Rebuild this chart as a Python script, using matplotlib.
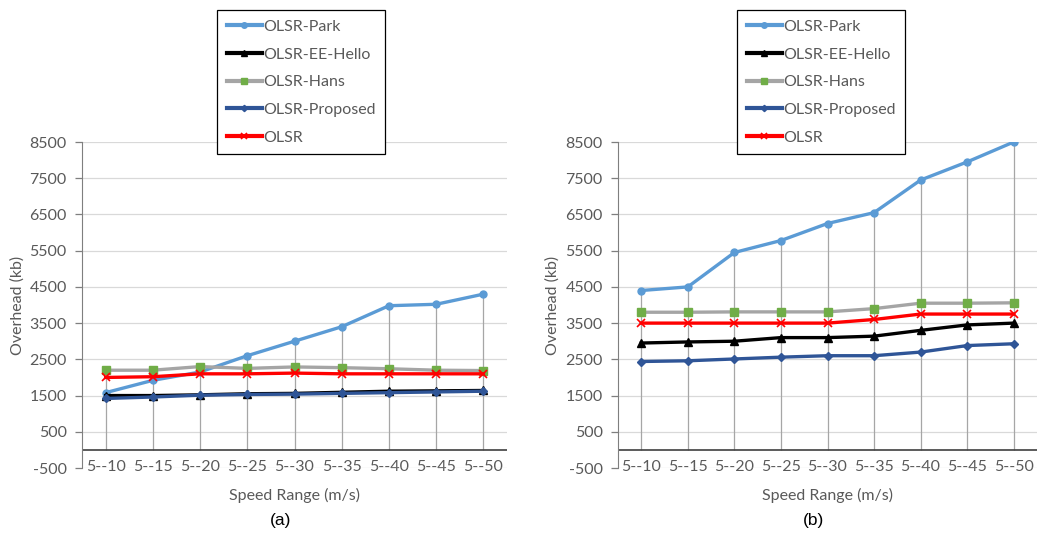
import numpy as np
import matplotlib
matplotlib.use("Agg")
import matplotlib.pyplot as plt

speed_ranges = ["5--10", "5--15", "5--20", "5--25", "5--30", "5--35", "5--40", "5--45", "5--50"]
series_names = ["OLSR-Park", "OLSR-EE-Hello", "OLSR-Hans", "OLSR-Proposed", "OLSR"]

# overhead (kb), panel (a)
park_a = [1580, 1920, 2150, 2600, 3000, 3400, 3980, 4020, 4300]
eehello_a = [1500, 1500, 1520, 1550, 1560, 1590, 1620, 1630, 1640]
hans_a = [2200, 2200, 2300, 2250, 2290, 2270, 2240, 2200, 2190]
proposed_a = [1420, 1460, 1510, 1530, 1540, 1560, 1580, 1600, 1620]
olsr_a = [2000, 2020, 2100, 2100, 2120, 2100, 2100, 2100, 2100]

# overhead (kb), panel (b)
park_b = [4400, 4500, 5450, 5780, 6250, 6550, 7450, 7950, 8500]
eehello_b = [2950, 2980, 3000, 3100, 3100, 3140, 3300, 3450, 3500]
hans_b = [3800, 3800, 3810, 3810, 3810, 3900, 4050, 4050, 4060]
proposed_b = [2440, 2460, 2510, 2560, 2600, 2600, 2700, 2880, 2930]
olsr_b = [3500, 3500, 3500, 3500, 3500, 3600, 3750, 3750, 3750]

yticks = list(range(-500, 8501, 1000))

styles = {
    "OLSR-Park": dict(color="#5B9BD5", marker="o", ms=5, mfc="#5B9BD5", mec="#5B9BD5"),
    "OLSR-EE-Hello": dict(color="black", marker="^", ms=6, mfc="black", mec="black"),
    "OLSR-Hans": dict(color="#A5A5A5", marker="s", ms=6, mfc="#70AD47", mec="#70AD47"),
    "OLSR-Proposed": dict(color="#2F5597", marker="D", ms=4, mfc="#2F5597", mec="#2F5597"),
    "OLSR": dict(color="#FF0000", marker="x", ms=6, mfc="#FF0000", mec="#FF0000", mew=1.2),
}

txt = "#595959"
plt.rcParams["font.family"] = ["Lato", "DejaVu Sans"]
plt.rcParams["axes.unicode_minus"] = False

fig = plt.figure(figsize=(10.37, 5.35), dpi=100)
ax_a = fig.add_axes([82 / 1037, 1 - 468 / 535, 425 / 1037, 326 / 535])
ax_b = fig.add_axes([618 / 1037, 1 - 468 / 535, 419 / 1037, 326 / 535])


def draw_panel(ax, data, tag, leg_left, ylab_x):
    x = np.arange(len(speed_ranges))
    tops = np.max(np.array(data), axis=0)
    ax.vlines(x, 0, tops, color="#A6A6A6", lw=0.9, zorder=1)
    for name, vals in zip(series_names, data):
        ax.plot(x, vals, lw=2.4, label=name, zorder=3, **styles[name])
    ax.axhline(0, color="#404040", lw=1.2, zorder=2)

    ax.set_xlim(-0.5, len(speed_ranges) - 0.5)
    ax.set_ylim(-500, 8500)
    ax.set_yticks(yticks)
    ax.grid(axis="y", color="#D9D9D9", lw=0.9)
    ax.set_axisbelow(True)
    for side in ["top", "right", "bottom"]:
        ax.spines[side].set_visible(False)
    ax.spines["left"].set_color("#7F7F7F")
    ax.tick_params(axis="y", colors="#7F7F7F", labelcolor=txt, labelsize=11.5, length=5,
                   width=0.9, pad=6)
    ax.set_xticks(x)
    ax.set_xticklabels(speed_ranges)
    ax.tick_params(axis="x", length=0, labelcolor=txt, labelsize=11.5, pad=-5.5)

    fig.text(ylab_x, 1 - 305 / 535, "Overhead (kb)", rotation=90, ha="center", va="center",
             color=txt, fontsize=11.5)
    cx = (ax.get_position().x0 + ax.get_position().x1) / 2
    fig.text(cx, 1 - 495 / 535, "Speed Range (m/s)", ha="center", va="center", color=txt,
             fontsize=11.5)
    fig.text(cx - 14 / 1037, 1 - 521 / 535, tag, ha="center", va="center", color="black",
             fontsize=12.5, family=["Liberation Sans", "DejaVu Sans"])

    leg = fig.legend(*ax.get_legend_handles_labels(), loc="upper left",
                     bbox_to_anchor=(leg_left, 1 - 10 / 535), borderaxespad=0,
                     frameon=True, fancybox=False, edgecolor="black", framealpha=1,
                     fontsize=11.5, labelspacing=0.85, handlelength=2.2, handletextpad=0.1,
                     borderpad=0.6)
    leg.get_frame().set_linewidth(0.9)
    for t in leg.get_texts():
        t.set_color(txt)
    for h in leg.legend_handles:
        h.set_markersize(h.get_markersize() * 0.8)
        h.set_linewidth(3)
    leg.set_zorder(10)


draw_panel(ax_a, [park_a, eehello_a, hans_a, proposed_a, olsr_a], "(a)", 217 / 1037, 18 / 1037)
draw_panel(ax_b, [park_b, eehello_b, hans_b, proposed_b, olsr_b], "(b)", 737 / 1037, 553 / 1037)

fig.savefig("out.png", dpi=100, facecolor="white")
